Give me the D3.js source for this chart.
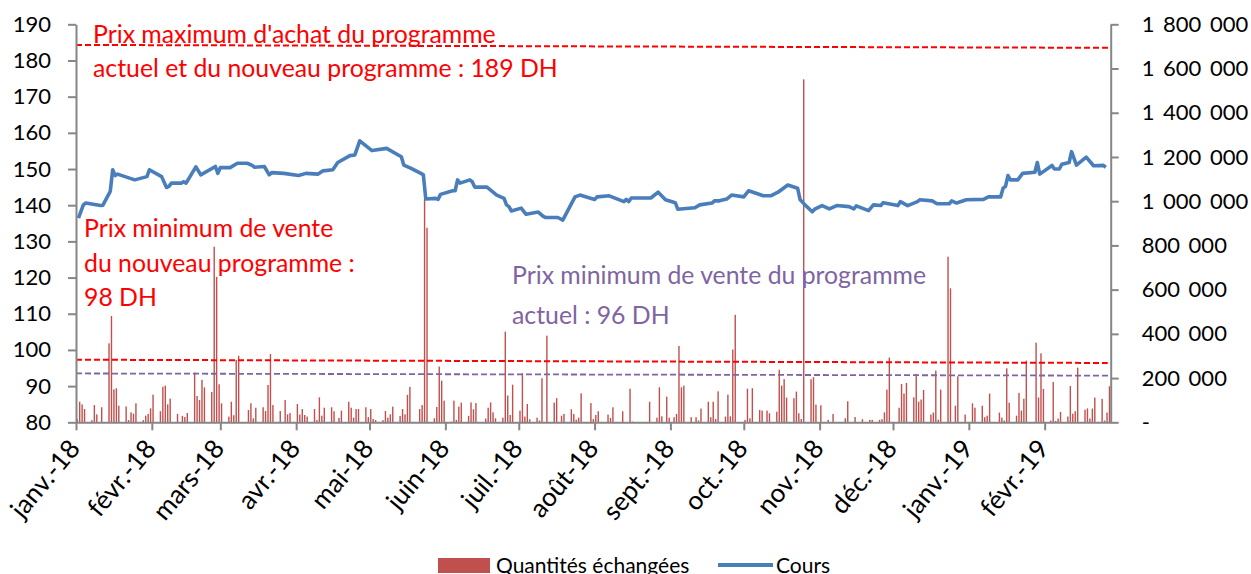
<!DOCTYPE html>
<html>
<head>
<meta charset="utf-8">
<script src="https://cdn.jsdelivr.net/npm/d3@7/dist/d3.min.js"></script>
<style>
  body { margin: 0; background: #fff; }
  svg { display: block; }
  text { font-family: Lato, "Open Sans", sans-serif; }
</style>
</head>
<body>
<div id="chart"></div>
<script>
// cours (DH)
const prices = [
  ['2018-01-02', 136.4], ['2018-01-04', 140.1], ['2018-01-05', 140.6], ['2018-01-11', 139.9], ['2018-01-12', 140.0],
  ['2018-01-15', 143.8], ['2018-01-16', 149.8], ['2018-01-17', 148.2], ['2018-01-18', 148.6], ['2018-01-25', 147.0],
  ['2018-01-30', 147.9], ['2018-01-31', 149.8], ['2018-02-05', 147.9], ['2018-02-07', 144.9], ['2018-02-08', 145.2],
  ['2018-02-09', 146.1], ['2018-02-13', 146.1], ['2018-02-14', 146.5], ['2018-02-15', 146.1], ['2018-02-19', 150.6],
  ['2018-02-21', 148.4], ['2018-02-27', 150.7], ['2018-02-28', 148.8], ['2018-03-01', 150.4], ['2018-03-05', 150.4],
  ['2018-03-08', 151.6], ['2018-03-12', 151.6], ['2018-03-14', 151.0], ['2018-03-15', 150.5], ['2018-03-19', 150.7],
  ['2018-03-21', 148.4], ['2018-03-22', 149.0], ['2018-03-27', 148.8], ['2018-04-02', 148.2], ['2018-04-05', 148.8],
  ['2018-04-10', 148.6], ['2018-04-12', 149.5], ['2018-04-16', 149.8], ['2018-04-18', 151.8], ['2018-04-23', 153.7],
  ['2018-04-25', 153.9], ['2018-04-27', 157.8], ['2018-05-02', 155.1], ['2018-05-08', 155.7], ['2018-05-14', 153.4],
  ['2018-05-15', 151.1], ['2018-05-18', 150.2], ['2018-05-22', 148.8], ['2018-05-23', 148.4], ['2018-05-24', 141.7],
  ['2018-05-28', 141.9], ['2018-05-29', 141.6], ['2018-05-30', 143.0], ['2018-06-04', 144.0], ['2018-06-05', 144.0],
  ['2018-06-06', 147.0], ['2018-06-07', 146.1], ['2018-06-11', 147.0], ['2018-06-12', 146.5], ['2018-06-13', 145.0],
  ['2018-06-18', 145.0], ['2018-06-22', 142.8], ['2018-06-25', 141.9], ['2018-06-26', 140.1], ['2018-06-27', 139.6],
  ['2018-06-28', 138.4], ['2018-07-02', 139.2], ['2018-07-04', 137.5], ['2018-07-09', 138.1], ['2018-07-11', 136.9],
  ['2018-07-12', 136.6], ['2018-07-17', 136.6], ['2018-07-19', 135.9], ['2018-07-24', 142.3], ['2018-07-26', 142.8],
  ['2018-08-01', 141.6], ['2018-08-02', 142.3], ['2018-08-07', 142.6], ['2018-08-13', 141.0], ['2018-08-14', 141.6],
  ['2018-08-15', 141.0], ['2018-08-16', 142.0], ['2018-08-24', 142.0], ['2018-08-27', 143.6], ['2018-08-30', 141.5],
  ['2018-09-03', 140.7], ['2018-09-04', 138.9], ['2018-09-11', 139.3], ['2018-09-13', 140.1], ['2018-09-18', 140.6],
  ['2018-09-19', 141.2], ['2018-09-21', 141.2], ['2018-09-24', 141.7], ['2018-09-26', 142.8], ['2018-10-01', 142.3],
  ['2018-10-03', 144.0], ['2018-10-09', 142.6], ['2018-10-12', 142.6], ['2018-10-15', 143.6], ['2018-10-19', 145.6],
  ['2018-10-23', 144.7], ['2018-10-24', 141.6], ['2018-10-26', 140.1], ['2018-10-29', 138.2], ['2018-10-30', 138.9],
  ['2018-11-02', 139.9], ['2018-11-05', 139.0], ['2018-11-08', 139.9], ['2018-11-13', 139.6], ['2018-11-15', 139.0],
  ['2018-11-16', 139.8], ['2018-11-21', 138.5], ['2018-11-23', 140.1], ['2018-11-26', 139.9], ['2018-11-27', 140.7],
  ['2018-12-03', 139.9], ['2018-12-04', 141.0], ['2018-12-07', 139.9], ['2018-12-11', 141.0], ['2018-12-12', 141.5],
  ['2018-12-17', 141.2], ['2018-12-19', 140.4], ['2018-12-24', 140.4], ['2018-12-25', 141.2], ['2018-12-27', 140.6],
  ['2018-12-31', 141.5], ['2019-01-07', 141.6], ['2019-01-09', 142.3], ['2019-01-14', 142.3], ['2019-01-15', 144.7],
  ['2019-01-16', 145.2], ['2019-01-17', 148.2], ['2019-01-18', 147.0], ['2019-01-21', 147.0], ['2019-01-23', 148.8],
  ['2019-01-28', 149.1], ['2019-01-29', 151.8], ['2019-01-30', 148.6], ['2019-02-04', 151.0], ['2019-02-05', 150.0],
  ['2019-02-07', 150.0], ['2019-02-08', 151.3], ['2019-02-11', 151.8], ['2019-02-12', 154.8], ['2019-02-14', 151.1],
  ['2019-02-18', 153.3], ['2019-02-21', 150.9], ['2019-02-25', 151.0], ['2019-02-26', 150.5]
]

// quantités échangées
const volumes = [
  ['2018-01-02', 14000], ['2018-01-03', 93000], ['2018-01-04', 81000], ['2018-01-05', 60000], ['2018-01-08', 10000],
  ['2018-01-09', 78000], ['2018-01-10', 36000], ['2018-01-12', 68000], ['2018-01-15', 357000], ['2018-01-16', 481000],
  ['2018-01-17', 149000], ['2018-01-18', 154000], ['2018-01-19', 75000], ['2018-01-22', 72000], ['2018-01-23', 10000],
  ['2018-01-24', 45000], ['2018-01-25', 39000], ['2018-01-26', 86000], ['2018-01-29', 10000], ['2018-01-30', 30000],
  ['2018-01-31', 38000], ['2018-02-01', 63000], ['2018-02-02', 125000], ['2018-02-05', 50000], ['2018-02-06', 161000],
  ['2018-02-07', 166000], ['2018-02-08', 81000], ['2018-02-09', 107000], ['2018-02-12', 38000], ['2018-02-14', 29000],
  ['2018-02-15', 24000], ['2018-02-16', 42000], ['2018-02-19', 225000], ['2018-02-20', 119000], ['2018-02-21', 101000],
  ['2018-02-22', 192000], ['2018-02-23', 158000], ['2018-02-26', 137000], ['2018-02-27', 794000], ['2018-02-28', 658000],
  ['2018-03-01', 172000], ['2018-03-02', 86000], ['2018-03-05', 26000], ['2018-03-06', 93000], ['2018-03-07', 32000],
  ['2018-03-08', 282000], ['2018-03-09', 301000], ['2018-03-13', 56000], ['2018-03-14', 86000], ['2018-03-15', 18000],
  ['2018-03-16', 66000], ['2018-03-19', 68000], ['2018-03-20', 51000], ['2018-03-21', 169000], ['2018-03-22', 309000],
  ['2018-03-23', 78000], ['2018-03-26', 51000], ['2018-03-28', 101000], ['2018-03-29', 36000], ['2018-03-30', 42000],
  ['2018-04-02', 83000], ['2018-04-03', 35000], ['2018-04-04', 60000], ['2018-04-05', 33000], ['2018-04-06', 26000],
  ['2018-04-09', 60000], ['2018-04-10', 10000], ['2018-04-11', 113000], ['2018-04-12', 30000], ['2018-04-13', 66000],
  ['2018-04-16', 68000], ['2018-04-17', 50000], ['2018-04-19', 20000], ['2018-04-20', 53000], ['2018-04-23', 93000],
  ['2018-04-24', 66000], ['2018-04-25', 21000], ['2018-04-26', 60000], ['2018-04-27', 60000], ['2018-04-30', 68000],
  ['2018-05-01', 23000], ['2018-05-02', 60000], ['2018-05-03', 15000], ['2018-05-04', 10000], ['2018-05-07', 10000],
  ['2018-05-08', 51000], ['2018-05-09', 21000], ['2018-05-10', 36000], ['2018-05-11', 71000], ['2018-05-14', 29000],
  ['2018-05-15', 60000], ['2018-05-16', 36000], ['2018-05-17', 124000], ['2018-05-18', 160000], ['2018-05-22', 60000],
  ['2018-05-23', 78000], ['2018-05-24', 1010000], ['2018-05-25', 880000], ['2018-05-28', 18000], ['2018-05-29', 69000],
  ['2018-05-30', 252000], ['2018-05-31', 188000], ['2018-06-01', 98000], ['2018-06-04', 3000], ['2018-06-05', 98000],
  ['2018-06-06', 11000], ['2018-06-07', 71000], ['2018-06-08', 89000], ['2018-06-11', 29000], ['2018-06-12', 90000],
  ['2018-06-13', 59000], ['2018-06-14', 87000], ['2018-06-18', 17000], ['2018-06-19', 66000], ['2018-06-20', 90000],
  ['2018-06-21', 45000], ['2018-06-22', 18000], ['2018-06-25', 21000], ['2018-06-26', 410000], ['2018-06-27', 121000],
  ['2018-06-28', 33000], ['2018-06-29', 170000], ['2018-07-02', 53000], ['2018-07-03', 222000], ['2018-07-04', 26000],
  ['2018-07-05', 83000], ['2018-07-06', 14000], ['2018-07-09', 21000], ['2018-07-10', 8000], ['2018-07-11', 199000],
  ['2018-07-13', 392000], ['2018-07-16', 89000], ['2018-07-17', 109000], ['2018-07-19', 30000], ['2018-07-20', 38000],
  ['2018-07-23', 59000], ['2018-07-24', 38000], ['2018-07-25', 12000], ['2018-07-26', 21000], ['2018-07-27', 131000],
  ['2018-07-31', 87000], ['2018-08-01', 15000], ['2018-08-02', 33000], ['2018-08-03', 50000], ['2018-08-07', 35000],
  ['2018-08-08', 20000], ['2018-08-09', 68000], ['2018-08-13', 50000], ['2018-08-16', 152000], ['2018-08-17', 3000],
  ['2018-08-24', 93000], ['2018-08-27', 21000], ['2018-08-28', 158000], ['2018-08-29', 27000], ['2018-08-31', 116000],
  ['2018-09-01', 21000], ['2018-09-03', 23000], ['2018-09-04', 38000], ['2018-09-05', 345000], ['2018-09-06', 158000],
  ['2018-09-07', 166000], ['2018-09-10', 23000], ['2018-09-12', 23000], ['2018-09-13', 8000], ['2018-09-14', 62000],
  ['2018-09-17', 93000], ['2018-09-18', 23000], ['2018-09-19', 93000], ['2018-09-20', 15000], ['2018-09-21', 140000],
  ['2018-09-24', 26000], ['2018-09-25', 125000], ['2018-09-26', 27000], ['2018-09-27', 329000], ['2018-09-28', 486000],
  ['2018-10-02', 11000], ['2018-10-03', 152000], ['2018-10-04', 18000], ['2018-10-05', 154000], ['2018-10-08', 56000],
  ['2018-10-09', 53000], ['2018-10-11', 53000], ['2018-10-12', 41000], ['2018-10-15', 48000], ['2018-10-16', 238000],
  ['2018-10-17', 166000], ['2018-10-18', 195000], ['2018-10-19', 112000], ['2018-10-22', 109000], ['2018-10-23', 139000],
  ['2018-10-24', 41000], ['2018-10-25', 15000], ['2018-10-26', 1551000], ['2018-10-29', 195000], ['2018-10-30', 204000],
  ['2018-10-31', 80000], ['2018-11-02', 77000], ['2018-11-05', 11000], ['2018-11-07', 38000], ['2018-11-12', 18000],
  ['2018-11-13', 95000], ['2018-11-16', 24000], ['2018-11-19', 14000], ['2018-11-22', 11000], ['2018-11-23', 11000],
  ['2018-11-26', 11000], ['2018-11-27', 14000], ['2018-11-28', 45000], ['2018-11-29', 148000], ['2018-11-30', 293000],
  ['2018-12-04', 66000], ['2018-12-05', 173000], ['2018-12-06', 130000], ['2018-12-07', 178000], ['2018-12-10', 113000],
  ['2018-12-11', 219000], ['2018-12-12', 93000], ['2018-12-13', 103000], ['2018-12-14', 146000], ['2018-12-17', 35000],
  ['2018-12-18', 44000], ['2018-12-19', 234000], ['2018-12-20', 12000], ['2018-12-21', 148000], ['2018-12-24', 749000],
  ['2018-12-25', 606000], ['2018-12-27', 75000], ['2018-12-28', 208000], ['2018-12-31', 35000], ['2019-01-03', 86000],
  ['2019-01-04', 66000], ['2019-01-07', 75000], ['2019-01-08', 23000], ['2019-01-09', 30000], ['2019-01-10', 130000],
  ['2019-01-14', 44000], ['2019-01-15', 21000], ['2019-01-16', 8000], ['2019-01-17', 244000], ['2019-01-18', 89000],
  ['2019-01-21', 30000], ['2019-01-22', 133000], ['2019-01-23', 53000], ['2019-01-24', 107000], ['2019-01-25', 279000],
  ['2019-01-29', 360000], ['2019-01-30', 112000], ['2019-01-31', 312000], ['2019-02-01', 151000], ['2019-02-04', 8000],
  ['2019-02-05', 182000], ['2019-02-06', 6000], ['2019-02-07', 17000], ['2019-02-08', 47000], ['2019-02-11', 26000],
  ['2019-02-12', 164000], ['2019-02-13', 39000], ['2019-02-14', 50000], ['2019-02-15', 247000], ['2019-02-18', 57000],
  ['2019-02-19', 63000], ['2019-02-20', 17000], ['2019-02-21', 62000], ['2019-02-22', 112000], ['2019-02-25', 106000],
  ['2019-02-26', 8000], ['2019-02-27', 44000], ['2019-02-28', 163000]
]

const monthStarts = ['2018-01-01', '2018-02-01', '2018-03-01', '2018-04-01', '2018-05-01', '2018-06-01', '2018-07-01',
  '2018-08-01', '2018-09-01', '2018-10-01', '2018-11-01', '2018-12-01', '2019-01-01', '2019-02-01']
const monthLabels = ['janv.-18', 'févr.-18', 'mars-18', 'avr.-18', 'mai-18', 'juin-18', 'juil.-18',
  'août-18', 'sept.-18', 'oct.-18', 'nov.-18', 'déc.-18', 'janv.-19', 'févr.-19']
const leftTicks = [80, 90, 100, 110, 120, 130, 140, 150, 160, 170, 180, 190]
const rightTicks = [0, 200000, 400000, 600000, 800000, 1000000, 1200000, 1400000, 1600000, 1800000]

// seuils (lignes pointillées), en DH sur l'axe de gauche : début, fin
const maxBuyLine = [184.3, 183.5]
const minSellNewLine = [97.3, 96.4]
const minSellOldLine = [93.5, 92.9]

const maxBuyNote = ["Prix maximum d'achat du programme", 'actuel et du nouveau programme : 189 DH']
const minSellNewNote = ['Prix minimum de vente', 'du nouveau programme :', '98 DH']
const minSellOldNote = ['Prix minimum de vente du programme', 'actuel : 96 DH']
const legendLabels = ['Quantités échangées', 'Cours']

const width = 1251
const height = 574
const plotLeft = 76
const plotRight = 1110.7
const plotTop = 24.3
const plotBottom = 422.3
const tickFont = 22
const noteFont = 24.8
const monthFont = 26
const legendFont = 21
const axisColor = '#868686'
const barColor = '#C0504D'
const lineColor = '#4A7EBB'
const red = '#FF0000'
const purple = '#8064A2'

const parse = d3.timeParse('%Y-%m-%d')

const x = d3.scaleTime()
  .domain([parse('2018-01-01'), parse('2019-02-28')])
  .range([plotLeft, plotRight])
const yLeft = d3.scaleLinear().domain([80, 190]).range([plotBottom, plotTop])
const yRight = d3.scaleLinear().domain([0, 1800000]).range([plotBottom, plotTop])

const svg = d3.select('#chart')
  .append('svg')
  .attr('width', width)
  .attr('height', height)

// bars (centred half a day before the date)
svg.append('g')
  .selectAll('rect')
  .data(volumes)
  .enter()
  .append('rect')
  .attr('x', d => x(d3.timeHour.offset(parse(d[0]), -12)) - 0.7)
  .attr('width', 1.4)
  .attr('y', d => yRight(d[1]))
  .attr('height', d => yRight(0) - yRight(d[1]))
  .attr('fill', barColor)

// dashed thresholds
const thresholds = [
  { v: maxBuyLine, color: red, w: 2, end: plotRight },
  { v: minSellNewLine, color: red, w: 2, end: plotRight - 3 },
  { v: minSellOldLine, color: purple, w: 1.8, end: plotRight }
]
svg.append('g')
  .selectAll('line')
  .data(thresholds)
  .enter()
  .append('line')
  .attr('x1', plotLeft)
  .attr('x2', d => d.end)
  .attr('y1', d => yLeft(d.v[0]))
  .attr('y2', d => yLeft(d.v[1]))
  .attr('stroke', d => d.color)
  .attr('stroke-width', d => d.w)
  .attr('stroke-dasharray', '6,3')

// price line
const line = d3.line()
  .x(d => x(parse(d[0])))
  .y(d => yLeft(d[1]))

svg.append('path')
  .datum(prices)
  .attr('d', line)
  .attr('fill', 'none')
  .attr('stroke', lineColor)
  .attr('stroke-width', 3.6)
  .attr('stroke-linejoin', 'round')

// axes
const leftAxis = svg.append('g')
  .attr('transform', `translate(${plotLeft},0)`)
  .call(d3.axisLeft(yLeft).tickValues(leftTicks).tickSize(8).tickSizeOuter(0).tickPadding(17).tickFormat(d3.format('d')))

const rightAxis = svg.append('g')
  .attr('transform', `translate(${plotRight},0)`)
  .call(d3.axisRight(yRight).tickValues(rightTicks).tickSize(8).tickSizeOuter(0).tickPadding(23)
    .tickFormat(v => (v === 0 ? '-' : d3.format(',')(v).replace(/,/g, ' '))))

const bottomAxis = svg.append('g')
  .attr('transform', `translate(0,${plotBottom})`)
  .call(d3.axisBottom(x).tickValues(monthStarts.map(parse)).tickSize(8).tickSizeOuter(0)
    .tickFormat((d, i) => monthLabels[i]))

;[leftAxis, rightAxis, bottomAxis].forEach(g => {
  g.select('.domain').attr('stroke', axisColor).attr('stroke-width', 2)
  g.selectAll('.tick line').attr('stroke', axisColor).attr('stroke-width', 2)
  g.selectAll('text').attr('font-size', tickFont).attr('font-family', 'Lato').attr('fill', '#000')
})

rightAxis.selectAll('.tick text').attr('word-spacing', 3)

bottomAxis.selectAll('.tick text')
  .attr('font-size', monthFont)
  .attr('text-anchor', 'end')
  .attr('y', 0)
  .attr('dy', 0)
  .attr('transform', 'translate(5,27) rotate(-50)')

// notes
const addNote = (lines, x0, y0, lh, color) => {
  svg.append('g')
    .selectAll('text')
    .data(lines)
    .enter()
    .append('text')
    .attr('x', x0)
    .attr('y', (d, i) => y0 + i * lh)
    .attr('font-size', noteFont)
    .attr('fill', color)
    .text(d => d)
}
addNote(maxBuyNote, 93, 43, 34, red)
addNote(minSellNewNote, 84, 237, 34.5, red)
addNote(minSellOldNote, 512, 284, 40, purple)

// legend
const legend = svg.append('g')
legend.append('rect')
  .attr('x', 438).attr('y', 558).attr('width', 52).attr('height', 15)
  .attr('fill', barColor)
legend.append('text')
  .attr('x', 496).attr('y', 573)
  .attr('font-size', legendFont)
  .text(legendLabels[0])
legend.append('line')
  .attr('x1', 718).attr('x2', 773).attr('y1', 565).attr('y2', 565)
  .attr('stroke', lineColor).attr('stroke-width', 4)
legend.append('text')
  .attr('x', 776).attr('y', 573)
  .attr('font-size', legendFont)
  .text(legendLabels[1])
</script>
</body>
</html>
